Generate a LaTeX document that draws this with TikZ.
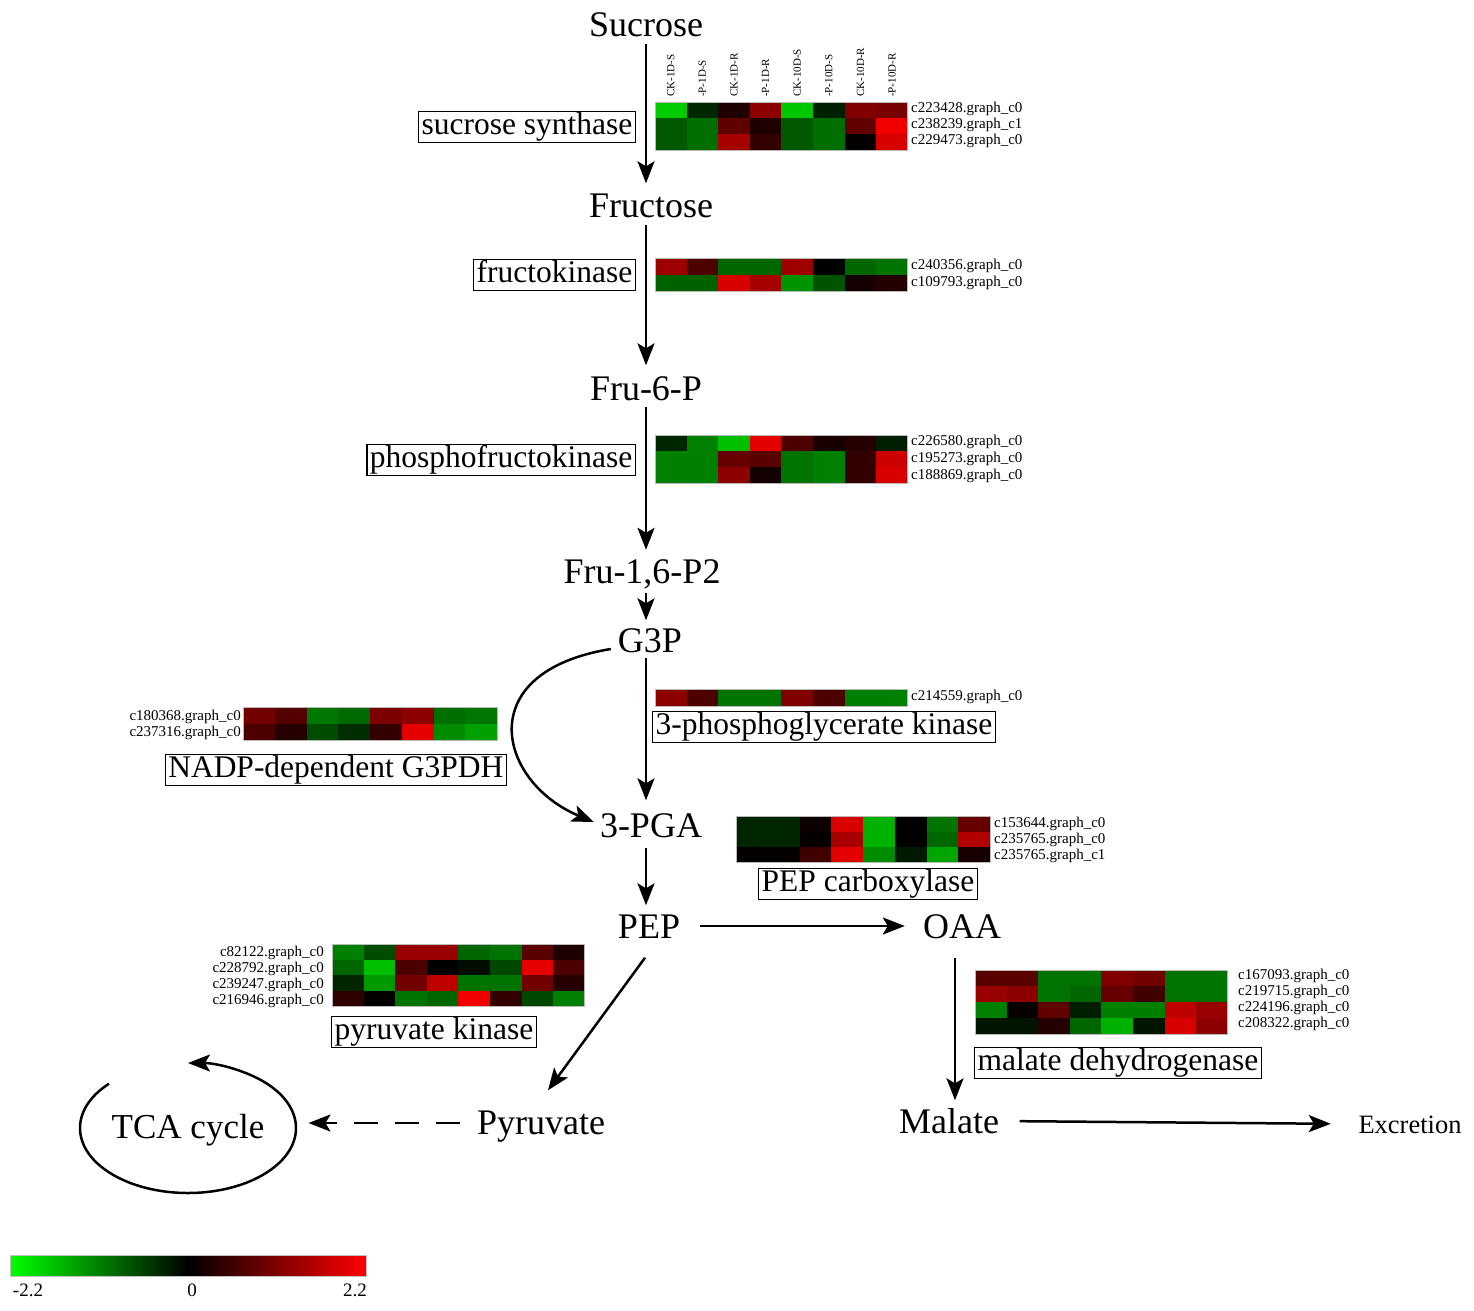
\documentclass[tikz,border=0pt]{standalone}
\usepackage{fontspec}
\setmainfont{Liberation Serif}
\usetikzlibrary{arrows.meta,calc}

\newcommand\hcell[5]{%
  \pgfmathsetmacro\hx{#1}%
  \pgfmathsetmacro\hy{-(#2)}%
  \pgfmathsetmacro\hv{#5}%
  \ifdim\hv pt<0pt
    \pgfmathsetmacro\ha{-\hv}%
    \fill[green!\ha!black] (\hx,\hy) rectangle ++(#3,-#4);%
  \else
    \fill[red!\hv!black] (\hx,\hy) rectangle ++(#3,-#4);%
  \fi}
% x y w h nrows data
\newcommand\hmap[6]{%
  \foreach \r [count=\j from 0] in {#6} {%
    \foreach \v [count=\i from 0] in \r {%
      \hcell{#1+\i*#3}{#2+\j*#4}{#3}{#4}{\v}%
    }%
  }%
  \pgfmathsetmacro\bw{8*#3}%
  \pgfmathsetmacro\bh{#5*#4}%
  \draw[gray!55, line width=0.8pt] (#1,-#2) rectangle ++(\bw,-\bh);%
}

\begin{document}
\begin{tikzpicture}[x=1pt,y=1pt,
  met/.style={font=\fontsize{36}{40}\selectfont, inner sep=0pt, text height=24pt, text depth=0pt},
  enz/.style={draw, line width=1.3pt, font=\fontsize{31.5}{34}\selectfont, inner xsep=3pt, inner ysep=1pt, text height=22pt, text depth=7pt},
  gene/.style={font=\fontsize{15}{16}\selectfont, inner sep=0pt},
  colh/.style={font=\fontsize{11}{12}\selectfont, inner sep=0pt, rotate=90, anchor=west},
  arr/.style={line width=2.5pt, -{Stealth[length=22pt,width=17pt,inset=5pt]}},
  cbl/.style={font=\fontsize{19}{20}\selectfont, inner sep=0pt}
]
\useasboundingbox (0,0) rectangle (1474,-1310);
\fill[white] (0,0) rectangle (1474,-1310);

% ---------- heatmaps ----------
\hmap{655}{102}{31.6}{16}{3}{{-80,-15,12,55,-78,-12,50,47},{-35,-43,38,12,-35,-43,38,95},{-35,-43,65,20,-35,-43,2,85}}
\hmap{655}{258}{31.6}{16.5}{2}{{62,30,-40,-40,62,0,-40,-45},{-38,-38,85,65,-58,-33,8,14}}
\hmap{655}{435}{31.6}{16}{3}{{-15,-50,-75,90,30,10,15,-12},{-50,-50,40,35,-45,-50,20,80},{-50,-50,55,8,-45,-50,20,85}}
\hmap{243}{707}{31.75}{16.5}{2}{{45,33,-47,-41,49,55,-43,-47},{30,14,-30,-18,20,90,-55,-63}}
\hmap{655}{689}{31.6}{17}{1}{{55,30,-45,-45,50,30,-50,-50}}
\hmap{736}{816}{31.75}{15.5}{3}{{-15,-15,5,85,-70,0,-45,40},{-15,-15,2,65,-70,0,-40,70},{2,2,25,90,-55,-10,-65,10}}
\hmap{332}{944}{31.6}{15.5}{4}{{-50,-30,60,60,-40,-45,35,12},{-40,-75,30,0,-5,-28,90,30},{-15,-60,45,75,-45,-45,45,15},{18,2,-45,-40,95,20,-28,-50}}
\hmap{975}{970}{31.6}{16}{4}{{35,35,-45,-45,50,45,-45,-45},{60,55,-45,-40,40,25,-45,-45},{-50,3,38,-12,-50,-50,75,60},{-8,-8,14,-40,-70,-8,85,55}}

% column headers
\node[colh] (h1) at (670.8,-97) {CK-1D-S};
\node[colh] (h2) at (702.4,-97) {-P-1D-S};
\node[colh] (h3) at (734.0,-97) {CK-1D-R};
\node[colh] (h4) at (765.6,-97) {-P-1D-R};
\node[colh] (h5) at (797.2,-97) {CK-10D-S};
\node[colh] (h6) at (828.8,-97) {-P-10D-S};
\node[colh] (h7) at (860.4,-97) {CK-10D-R};
\node[colh] (h8) at (892.0,-97) {-P-10D-R};

% gene labels
\node[gene,anchor=west] (ga1) at (911,-109) {c223428.graph\_c0};
\node[gene,anchor=west] (ga2) at (911,-125) {c238239.graph\_c1};
\node[gene,anchor=west] (ga3) at (911,-141) {c229473.graph\_c0};
\node[gene,anchor=west] (gb1) at (911,-266) {c240356.graph\_c0};
\node[gene,anchor=west] (gb2) at (911,-283) {c109793.graph\_c0};
\node[gene,anchor=west] (gc1) at (911,-442) {c226580.graph\_c0};
\node[gene,anchor=west] (gc2) at (911,-459) {c195273.graph\_c0};
\node[gene,anchor=west] (gc3) at (911,-476) {c188869.graph\_c0};
\node[gene,anchor=east] (gd1) at (241,-717) {c180368.graph\_c0};
\node[gene,anchor=east] (gd2) at (241,-733) {c237316.graph\_c0};
\node[gene,anchor=west] (ge1) at (911,-697) {c214559.graph\_c0};
\node[gene,anchor=west] (gf1) at (994,-824) {c153644.graph\_c0};
\node[gene,anchor=west] (gf2) at (994,-840) {c235765.graph\_c0};
\node[gene,anchor=west] (gf3) at (994,-856) {c235765.graph\_c1};
\node[gene,anchor=east] (gg1) at (324,-953) {c82122.graph\_c0};
\node[gene,anchor=east] (gg2) at (324,-969) {c228792.graph\_c0};
\node[gene,anchor=east] (gg3) at (324,-985) {c239247.graph\_c0};
\node[gene,anchor=east] (gg4) at (324,-1001) {c216946.graph\_c0};
\node[gene,anchor=west] (gh1) at (1238,-976) {c167093.graph\_c0};
\node[gene,anchor=west] (gh2) at (1238,-992) {c219715.graph\_c0};
\node[gene,anchor=west] (gh3) at (1238,-1008) {c224196.graph\_c0};
\node[gene,anchor=west] (gh4) at (1238,-1024) {c208322.graph\_c0};

% ---------- metabolites ----------
\node[met] (suc) at (646,-24) {Sucrose};
\node[met] (fru) at (651,-205) {Fructose};
\node[met] (f6p) at (646,-388) {Fru-6-P};
\node[met] (fbp) at (642,-571) {Fru-1,6-P2};
\node[met] (g3p) at (650,-640) {G3P};
\node[met] (pga) at (651,-825) {3-PGA};
\node[met] (pep) at (649,-926) {PEP};
\node[met] (oaa) at (962,-926) {OAA};
\node[met] (pyr) at (541,-1122) {Pyruvate};
\node[met] (mal) at (949,-1121) {Malate};
\node[font=\fontsize{26.5}{30}\selectfont, inner sep=0pt, text height=18pt, text depth=0pt] (exc) at (1410,-1124) {Excretion};
\node[font=\fontsize{35}{38}\selectfont, inner sep=0pt, text height=23pt, text depth=0pt] (tca) at (188,-1127) {TCA cycle};

% ---------- enzymes ----------
\node[enz,anchor=east] (ss) at (636,-127) {sucrose synthase};
\node[enz,anchor=east] (fk) at (636,-275) {fructokinase};
\node[enz,anchor=east] (pfk) at (636,-460) {phosphofructokinase};
\node[enz,anchor=east] (g3pdh) at (507,-770) {NADP-dependent G3PDH};
\node[enz,anchor=west] (pgk) at (652,-727) {3-phosphoglycerate kinase};
\node[enz] (pepc) at (868,-884) {PEP carboxylase};
\node[enz] (pk) at (434,-1032) {pyruvate kinase};
\node[enz,anchor=west] (mdh) at (974,-1063) {malate dehydrogenase};

% ---------- connectors ----------
\draw[arr, shorten <=8pt, shorten >=9.5pt] (suc.south) -- (suc.south |- fru.north);
\draw[arr, shorten <=7.5pt, shorten >=10.5pt] (suc.south |- fru.south) -- (suc.south |- f6p.north);
\draw[arr, shorten <=7pt, shorten >=9pt] (suc.south |- f6p.south) -- (suc.south |- fbp.north);
\draw[arr, shorten <=9.5pt, shorten >=7.5pt] (suc.south |- fbp.south) -- (suc.south |- g3p.north);
\draw[arr, shorten <=5.5pt, shorten >=12.5pt] (suc.south |- g3p.south) -- (suc.south |- pga.north);
\draw[arr, shorten <=10.5pt, shorten >=8.5pt] (suc.south |- pga.south) -- (suc.south |- pep.north);
\draw[arr, shorten <=20pt, shorten >=18pt] (pep.east) -- (oaa.west);
\coordinate (oaax) at ([xshift=-7pt]oaa.south);
\draw[arr, shorten <=19.5pt, shorten >=8.5pt] (oaax) -- (oaax |- mal.north);
\draw[arr, shorten <=20.5pt, shorten >=27.5pt] (mal.east) -- (exc.west);
\draw[arr] ([xshift=-4pt,yshift=-19.5pt]pep.south) -- ([xshift=7pt,yshift=19.5pt]pyr.north);
\draw[arr, dash pattern=on 24pt off 17pt, shorten <=17pt] ([yshift=-1pt]pyr.west) -- ([xshift=44pt,yshift=-1pt]tca.east |- pyr.west);
\draw[arr] ([xshift=-7pt,yshift=-9pt]g3p.west) .. controls (470,-672) and (498,-782) .. ([xshift=-6pt,yshift=3pt]pga.west);
\draw[arr] ([yshift=-1pt]tca.center) ++(137:108 and 65) arc[start angle=137, end angle=450, x radius=108, y radius=65];

% ---------- colour bar ----------
\shade[left color=green, right color=red, middle color=black] (10,-1255) rectangle (366,-1276);
\draw[gray!50, line width=0.6pt] (10,-1255) rectangle (366,-1276);
\node[cbl] (cbmin) at (28,-1290) {-2.2};
\node[cbl] (cbmid) at (192,-1290) {0};
\node[cbl] (cbmax) at (355,-1290) {2.2};
\end{tikzpicture}
\end{document}
